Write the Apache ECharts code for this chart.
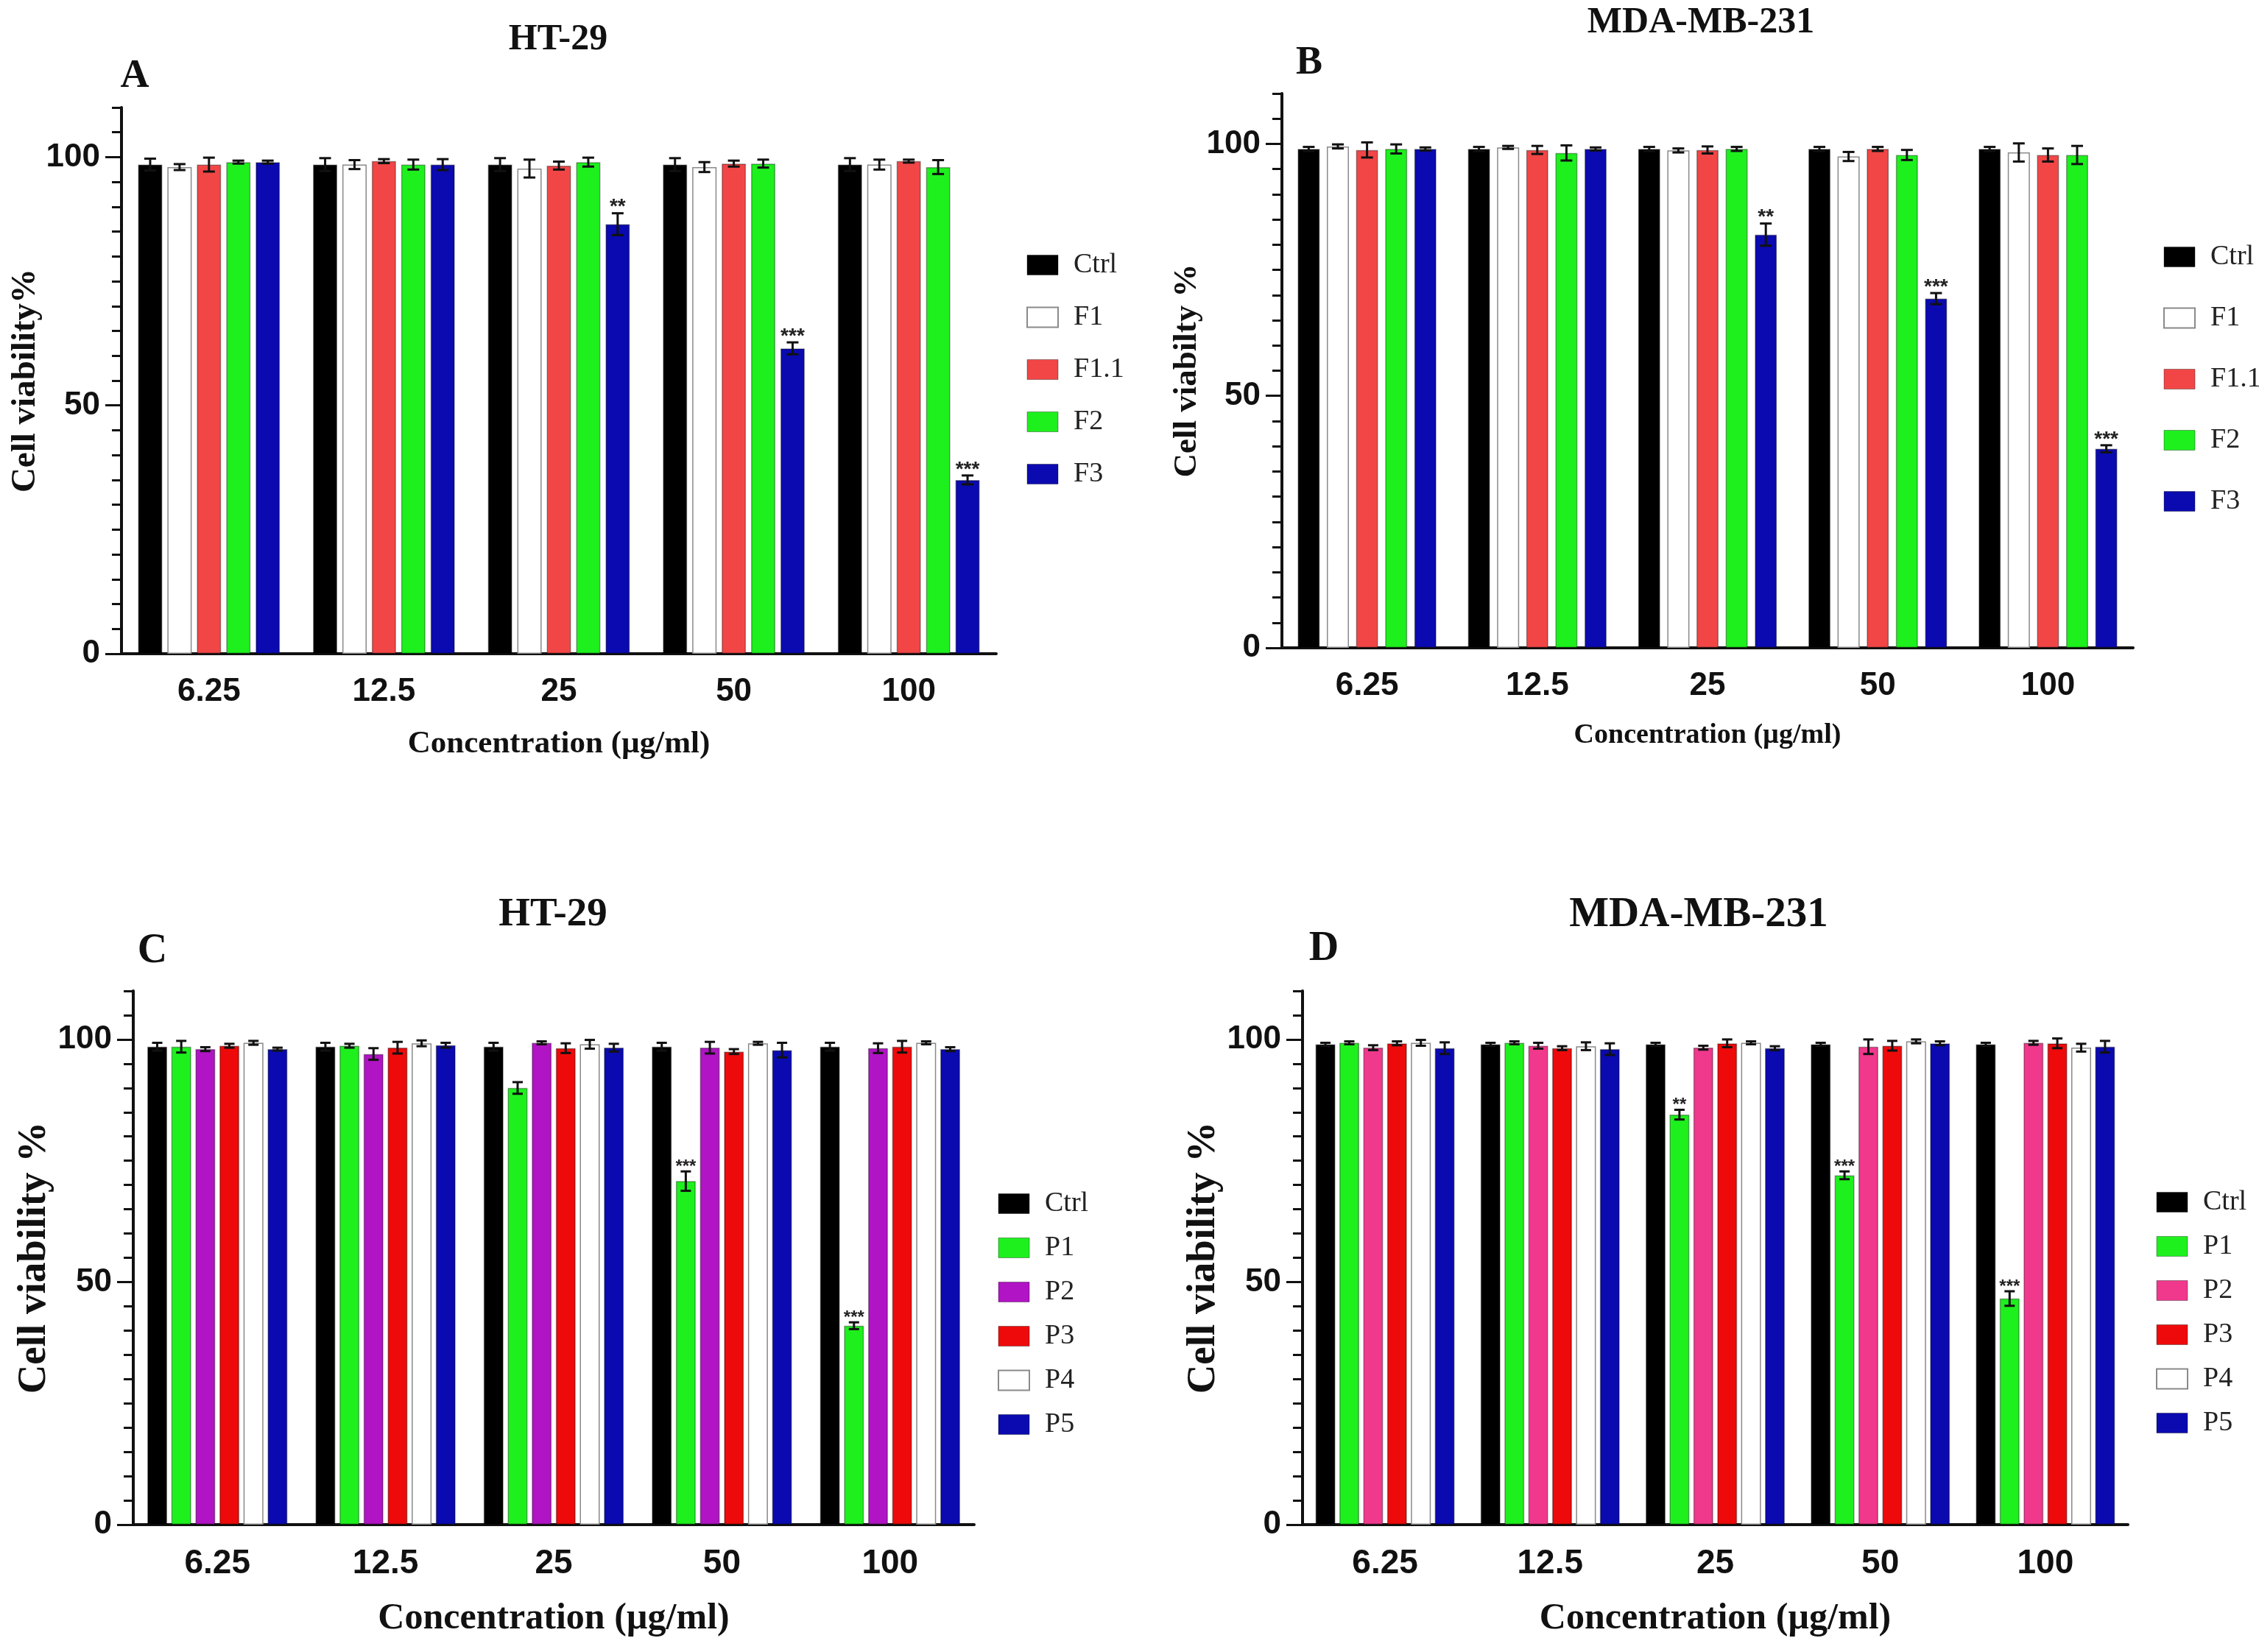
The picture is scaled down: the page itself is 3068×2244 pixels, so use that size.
<!DOCTYPE html>
<html>
<head>
<meta charset="utf-8">
<script src="https://cdn.jsdelivr.net/npm/echarts@6/dist/echarts.min.js"></script>
<style>
html, body { margin: 0; padding: 0; background: #fff; }
#main { width: 3068px; height: 2244px; }
</style>
</head>
<body>
<div id="main"></div>
<script>
var concentrations = ['6.25', '12.5', '25', '50', '100'];
var yLabelTicks = [0, 50, 100];

// A : HT-29, F fractions
var namesF = ['Ctrl', 'F1', 'F1.1', 'F2', 'F3'];
var htF_mean = [
	[98.5, 98.5, 98.5, 98.5, 98.5],
	[98.0, 98.5, 97.7, 98.0, 98.5],
	[98.5, 99.2, 98.3, 98.7, 99.2],
	[99.0, 98.5, 99.0, 98.7, 98.0],
	[99.0, 98.5, 86.5, 61.5, 35.0]
];
var htF_sd = [
	[1.2, 1.3, 1.3, 1.3, 1.3],
	[0.6, 0.9, 1.8, 1.0, 1.0],
	[1.4, 0.4, 0.8, 0.6, 0.3],
	[0.3, 1.0, 0.9, 0.8, 1.4],
	[0.3, 1.1, 2.2, 1.2, 0.9]
];
var htF_sig = [null, null, null, null, ['', '', '**', '***', '***']];

// B : MDA-MB-231, F fractions
var mdaF_mean = [
	[99.0, 99.0, 99.0, 99.0, 99.0],
	[99.5, 99.3, 98.7, 97.5, 98.3],
	[98.8, 98.8, 98.8, 99.0, 97.8],
	[99.0, 98.2, 99.0, 97.8, 97.8],
	[99.0, 99.0, 82.0, 69.3, 39.5]
];
var mdaF_sd = [
	[0.4, 0.4, 0.4, 0.4, 0.4],
	[0.4, 0.3, 0.4, 0.9, 1.8],
	[1.5, 0.8, 0.7, 0.4, 1.3],
	[0.9, 1.5, 0.4, 1.0, 1.8],
	[0.3, 0.3, 2.2, 1.1, 0.7]
];
var mdaF_sig = [null, null, null, null, ['', '', '**', '***', '***']];

// C : HT-29, P fractions
var namesP = ['Ctrl', 'P1', 'P2', 'P3', 'P4', 'P5'];
var htP_mean = [
	[98.5, 98.5, 98.5, 98.5, 98.5],
	[98.5, 98.7, 90.0, 70.8, 41.0],
	[98.0, 97.0, 99.3, 98.3, 98.2],
	[98.7, 98.3, 98.2, 97.5, 98.5],
	[99.3, 99.2, 99.0, 99.2, 99.3],
	[98.0, 98.8, 98.3, 97.8, 98.0]
];
var htP_sd = [
	[0.8, 0.8, 0.8, 0.8, 0.8],
	[1.2, 0.4, 1.2, 2.0, 0.7],
	[0.4, 1.2, 0.3, 1.2, 1.0],
	[0.4, 1.2, 1.0, 0.5, 1.2],
	[0.4, 0.6, 0.9, 0.3, 0.3],
	[0.3, 0.5, 0.8, 1.5, 0.4]
];
var htP_sig = [null, ['', '', '', '***', '***'], null, null, null, null];

// D : MDA-MB-231, P fractions
var mdaP_mean = [
	[99.0, 99.0, 99.0, 99.0, 99.0],
	[99.3, 99.3, 84.5, 72.0, 46.6],
	[98.3, 98.7, 98.3, 98.5, 99.3],
	[99.2, 98.2, 99.2, 98.7, 99.2],
	[99.3, 98.6, 99.3, 99.6, 98.3],
	[98.2, 98.0, 98.2, 99.2, 98.5]
];
var mdaP_sd = [
	[0.3, 0.3, 0.3, 0.3, 0.3],
	[0.3, 0.3, 1.0, 0.8, 1.5],
	[0.5, 0.6, 0.4, 1.5, 0.4],
	[0.4, 0.4, 0.8, 1.0, 1.0],
	[0.6, 0.8, 0.3, 0.4, 0.8],
	[1.2, 1.2, 0.4, 0.4, 1.2]
];
var mdaP_sig = [null, ['', '', '**', '***', '***'], null, null, null, null];

var colorsF = ['#000000', '#ffffff', '#f24646', '#1ef01e', '#0a0ab0'];
var colorsPc = ['#000000', '#1ef01e', '#b014c4', '#ee0a0a', '#ffffff', '#0a0ab0'];
var colorsPd = ['#000000', '#1ef01e', '#f0388c', '#ee0a0a', '#ffffff', '#0a0ab0'];

var SERIF = '"Liberation Serif", "Times New Roman", serif';
var SANS = '"Liberation Sans", Arial, sans-serif';

var panels = [
	{ names: namesF, colors: colorsF, mean: htF_mean, sd: htF_sd, sig: htF_sig,
	  grid: { left: 165, top: 146, width: 1188, height: 742 }, bw: 33, gap: '21%', cap: 8,
	  yName: 'Cell viability%', yNameSize: 47, yNameGap: 104, xNameSize: 43, xNameGap: 101,
	  xTickSize: 44, starSize: 28,
	  legend: { left: 1389, top: 336, gap: 33, size: 38 } },
	{ names: namesF, colors: colorsF, mean: mdaF_mean, sd: mdaF_sd, sig: mdaF_sig,
	  grid: { left: 1741, top: 127, width: 1156, height: 753 }, bw: 30, gap: '32%', cap: 8,
	  yName: 'Cell viabilty %', yNameSize: 45, yNameGap: 92, xNameSize: 38, xNameGap: 100,
	  xTickSize: 44, starSize: 28,
	  legend: { left: 2933, top: 325, gap: 45, size: 38 } },
	{ names: namesP, colors: colorsPc, mean: htP_mean, sd: htP_sd, sig: htP_sig,
	  grid: { left: 181, top: 1346, width: 1142, height: 725 }, bw: 27, gap: '21%', cap: 7,
	  yName: 'Cell viability %', yNameSize: 55, yNameGap: 104, xNameSize: 50, xNameGap: 103,
	  xTickSize: 46, starSize: 24,
	  legend: { left: 1350, top: 1611, gap: 22, size: 38 } },
	{ names: namesP, colors: colorsPd, mean: mdaP_mean, sd: mdaP_sd, sig: mdaP_sig,
	  grid: { left: 1769, top: 1346, width: 1121, height: 725 }, bw: 27, gap: '20%', cap: 7,
	  yName: 'Cell viability %', yNameSize: 55, yNameGap: 104, xNameSize: 50, xNameGap: 103,
	  xTickSize: 46, starSize: 24,
	  legend: { left: 2923, top: 1609, gap: 22, size: 38 } }
];

function borderFor(c) {
	return c === '#ffffff' ? '#8a8a8a' : 'rgba(0,0,0,0.35)';
}

function errorRenderer(p, k) {
	var n = p.names.length;
	return function (params, api) {
		var cat = api.value(0), m = api.value(1), e = api.value(2);
		var lay = api.barLayout ? api.barLayout({ count: n, barWidth: p.bw, barGap: p.gap }) : null;
		var off;
		if (lay && lay[k]) {
			off = lay[k].offsetCenter;
		} else {
			off = (k - (n - 1) / 2) * p.bw * (1 + parseFloat(p.gap) / 100);
		}
		var hi = api.coord([cat, m + e]);
		var lo = api.coord([cat, m - e]);
		var x = hi[0] + off;
		var st = { stroke: '#111', lineWidth: 3 };
		var kids = [
			{ type: 'line', shape: { x1: x, y1: hi[1], x2: x, y2: lo[1] }, style: st },
			{ type: 'line', shape: { x1: x - p.cap, y1: hi[1], x2: x + p.cap, y2: hi[1] }, style: st },
			{ type: 'line', shape: { x1: x - p.cap, y1: lo[1], x2: x + p.cap, y2: lo[1] }, style: st }
		];
		var s = p.sig[k] ? p.sig[k][params.dataIndex] : '';
		if (s) {
			kids.push({ type: 'text', x: x, y: hi[1] + 6,
				style: { text: s, font: 'bold ' + p.starSize + 'px ' + SANS,
					fill: '#222', align: 'center', verticalAlign: 'bottom' } });
		}
		return { type: 'group', children: kids };
	};
}

var grids = [], xAxes = [], yAxes = [], series = [], legends = [];

panels.forEach(function (p, i) {
	grids.push(p.grid);
	xAxes.push({
		type: 'category', gridIndex: i, data: concentrations,
		name: 'Concentration (µg/ml)', nameLocation: 'middle', nameGap: p.xNameGap,
		nameTextStyle: { fontFamily: SERIF, fontWeight: 'bold', fontSize: p.xNameSize, color: '#111' },
		axisLine: { lineStyle: { color: '#111', width: 4 } },
		axisTick: { alignWithLabel: true, length: 23, lineStyle: { color: '#111', width: 3 } },
		axisLabel: { margin: 30, fontFamily: SANS, fontWeight: 'bold', fontSize: p.xTickSize, color: '#111' },
		splitLine: { show: false }
	});
	yAxes.push({
		type: 'value', gridIndex: i, min: 0, max: 110, interval: 5,
		name: p.yName, nameLocation: 'middle', nameGap: p.yNameGap, nameRotate: 90,
		nameTextStyle: { fontFamily: SERIF, fontWeight: 'bold', fontSize: p.yNameSize, color: '#111' },
		axisLine: { show: true, lineStyle: { color: '#111', width: 4 } },
		axisTick: { show: true, length: 13, lineStyle: { color: '#111', width: 3 } },
		axisLabel: {
			margin: 29, fontFamily: SANS, fontWeight: 'bold', fontSize: 44, color: '#111',
			formatter: function (v) { return yLabelTicks.indexOf(v) >= 0 ? String(v) : ''; }
		},
		splitLine: { show: false }
	});
	// overlay axis carrying only the long major ticks
	yAxes.push({
		type: 'value', gridIndex: i, min: 0, max: 110, position: 'left',
		axisLine: { show: false },
		axisTick: { show: true, customValues: yLabelTicks, length: 22, lineStyle: { color: '#111', width: 3 } },
		axisLabel: { show: false },
		splitLine: { show: false }
	});

	var legendData = [];
	p.names.forEach(function (nm, k) {
		var col = p.colors[k];
		series.push({
			type: 'bar', name: nm, xAxisIndex: i, yAxisIndex: 2 * i,
			data: p.mean[k], barWidth: p.bw, barGap: p.gap,
			itemStyle: { color: col, borderColor: borderFor(col), borderWidth: 1.5 }
		});
		series.push({
			type: 'custom', name: 'err-' + i + '-' + k, xAxisIndex: i, yAxisIndex: 2 * i, z: 5,
			data: p.mean[k].map(function (v, j) { return [j, v, p.sd[k][j]]; }),
			encode: { x: 0, y: 1 },
			renderItem: errorRenderer(p, k)
		});
		legendData.push({ name: nm, itemStyle: { color: col, borderColor: borderFor(col), borderWidth: col === '#ffffff' ? 2 : 1 } });
	});
	legends.push({
		orient: 'vertical', left: p.legend.left, top: p.legend.top,
		itemWidth: 42, itemHeight: 27, itemGap: p.legend.gap, icon: 'rect',
		selectedMode: false, data: legendData,
		textStyle: { fontFamily: SERIF, fontSize: p.legend.size, color: '#222', lineHeight: 27, padding: [0, 0, 0, 16] }
	});
});

var headings = [
	{ text: 'HT-29', x: 758, y: 54, size: 50 },
	{ text: 'MDA-MB-231', x: 2310, y: 31, size: 50 },
	{ text: 'HT-29', x: 751, y: 1243, size: 55 },
	{ text: 'MDA-MB-231', x: 2307, y: 1243, size: 57 },
	{ text: 'A', x: 183, y: 104, size: 54 },
	{ text: 'B', x: 1778, y: 86, size: 54 },
	{ text: 'C', x: 207, y: 1293, size: 56 },
	{ text: 'D', x: 1798, y: 1290, size: 56 }
];

var option = {
	animation: false,
	backgroundColor: '#ffffff',
	grid: grids,
	xAxis: xAxes,
	yAxis: yAxes,
	legend: legends,
	series: series,
	graphic: headings.map(function (h) {
		return {
			type: 'text', x: h.x, y: h.y,
			style: { text: h.text, font: 'bold ' + h.size + 'px ' + SERIF, fill: '#111', align: 'center', verticalAlign: 'middle' }
		};
	})
};

var myChart = echarts.init(document.getElementById('main'));
myChart.setOption(option);
</script>
</body>
</html>
